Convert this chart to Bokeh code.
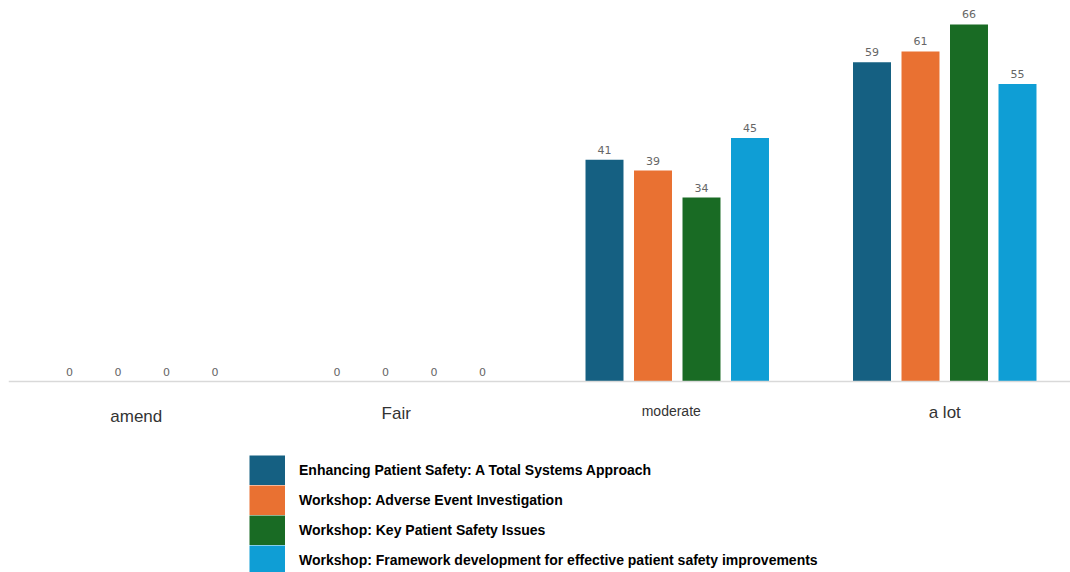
from bokeh.plotting import figure
from bokeh.models import ColumnDataSource, Range1d, Span, Legend, LegendItem
from bokeh.core.properties import value
from bokeh.embed import file_html
from bokeh.resources import INLINE

categories = ["amend", "Fair", "moderate", "a lot"]
series_names = [
    "Enhancing Patient Safety: A Total Systems Approach",
    "Workshop: Adverse Event Investigation",
    "Workshop: Key Patient Safety Issues",
    "Workshop: Framework development for effective patient safety improvements",
]
enhancing = [0, 0, 41, 59]
adverse = [0, 0, 39, 61]
key_issues = [0, 0, 34, 66]
framework = [0, 0, 45, 55]
series_values = [enhancing, adverse, key_issues, framework]
colors = ["#156082", "#E97132", "#196B24", "#0F9ED5"]

# category label styling (position tweaks in px / data units)
cat_font_sizes = ["17px", "17px", "14px", "17px"]
cat_x_offsets = [-6, -13.5, -6, 0]
cat_label_y = [-6.47, -5.92, -5.54, -5.73]

W, H = 1070, 572
LEFT = 8
px_per_unit = 5.41
base_px = 381  # baseline from figure top

p = figure(width=W, height=H, output_backend="svg", toolbar_location=None,
           x_range=Range1d(0, (W - LEFT) / 267.5),
           y_range=Range1d(-(H - base_px) / px_per_unit, base_px / px_per_unit),
           min_border=0, min_border_left=LEFT, min_border_right=0,
           min_border_top=0, min_border_bottom=0)
p.xaxis.visible = False
p.yaxis.visible = False
p.grid.visible = False
p.outline_line_color = None
p.background_fill_color = "white"
p.border_fill_color = "white"

p.add_layout(Span(location=0, dimension="width", line_color="#d9d9d9", line_width=1.5))

pitch = 0.1813
bw = 0.142
offsets = [-1.5 * pitch, -0.5 * pitch, 0.5 * pitch, 1.5 * pitch]
items = []
nan = float("nan")
for name, vals, col, off in zip(series_names, series_values, colors, offsets):
    xs = [i + 0.5 + off for i in range(len(categories))]
    src = ColumnDataSource(dict(x=xs, top=vals, lbl=[str(v) for v in vals]))
    p.vbar(x="x", top="top", width=bw, bottom=0, source=src,
           fill_color=col, line_color=None)
    p.text(x="x", y="top", text="lbl", source=src, text_align="center",
           text_baseline="bottom", y_offset=-6, text_font_size="11px",
           text_color="#666666", text_font=value("DejaVu Sans"))
    # legend key: a thick line swatch (no visible data)
    key = p.line(x=[nan, nan], y=[nan, nan], line_color=col, line_width=30,
                 line_cap="butt")
    items.append(LegendItem(label=name, renderers=[key]))

cat_src = ColumnDataSource(dict(
    x=[i + 0.5 for i in range(len(categories))],
    y=cat_label_y,
    t=categories,
    fs=cat_font_sizes,
    xo=cat_x_offsets,
))
p.text(x="x", y="y", text="t", source=cat_src, x_offset="xo", text_align="center",
       text_baseline="alphabetic", text_font_size="fs", text_color="#333333",
       text_font=value("Liberation Sans"))

legend = Legend(items=items, location=(241, -3), orientation="vertical",
                glyph_width=36, glyph_height=30, spacing=0, padding=0, margin=0,
                label_standoff=14, label_text_font="Liberation Sans",
                label_text_font_style="bold", label_text_font_size="14px",
                label_text_color="#000000", border_line_color=None,
                background_fill_alpha=0, label_height=30)
p.add_layout(legend)

open("out.html", "w").write(file_html(p, INLINE))
